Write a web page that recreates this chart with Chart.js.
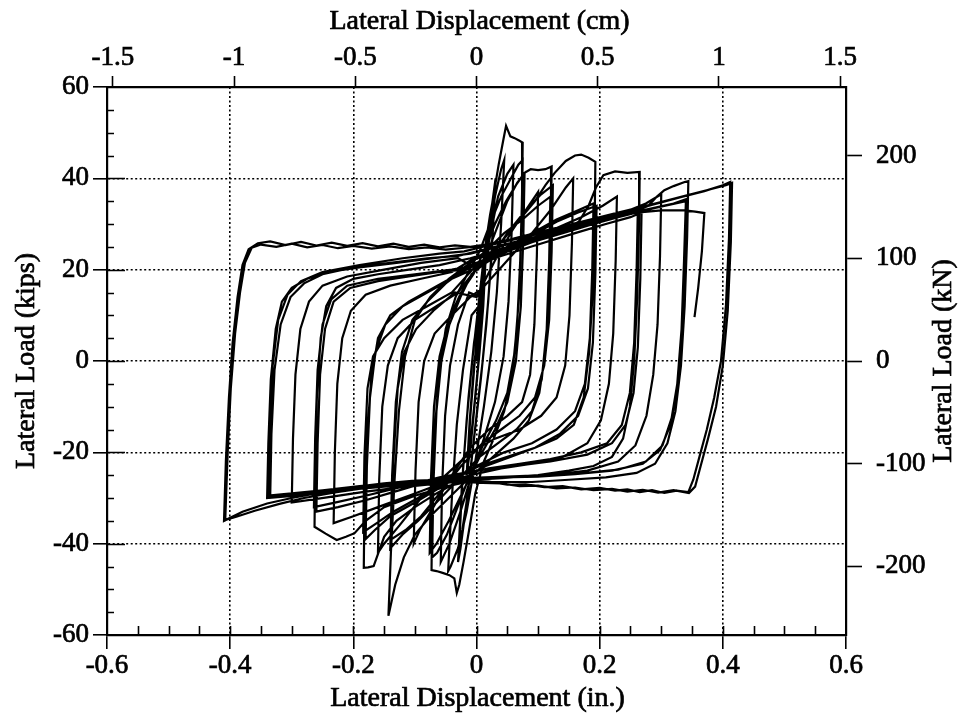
<!DOCTYPE html>
<html>
<head>
<meta charset="utf-8">
<title>Lateral load vs lateral displacement</title>
<script src="https://cdn.jsdelivr.net/npm/chart.js@4.4.0/dist/chart.umd.min.js"></script>
<style>
  html, body { margin: 0; padding: 0; background: #fff; }
  #wrap { width: 962px; height: 717px; }
</style>
</head>
<body>
<div id="wrap"><canvas id="hyst" width="962" height="717"></canvas></div>
<script>
/* =========================================================
   Data: hysteresis record, displacement (in.) / load (kips)
   one array per amplitude group
   ========================================================= */
const cycleA = [
  [0.000, 0], [0.005, 8], [0.010, 15], [0.014, 20], [0.010, 11], [0.004, 1],
  [-0.003, -9], [-0.009, -17], [-0.014, -22], [-0.010, -12], [-0.004, -2],
  [0.003, 9], [0.009, 17], [0.015, 23], [0.011, 12], [0.005, 2],
  [-0.002, -8], [-0.009, -18], [-0.016, -25], [-0.011, -13], [-0.004, -1]
];
const cycleB = [
  [0.004, 8], [0.012, 19], [0.020, 29], [0.027, 36], [0.031, 40], [0.026, 27],
  [0.019, 13], [0.010, 0], [0.000, -12], [-0.010, -24], [-0.019, -34],
  [-0.026, -41], [-0.030, -44], [-0.024, -28], [-0.016, -13], [-0.007, 0],
  [0.003, 12], [0.013, 24], [0.022, 32], [0.029, 37], [0.024, 22], [0.016, 8],
  [0.007, -4], [-0.004, -17], [-0.014, -29], [-0.023, -37], [-0.028, -40],
  [-0.022, -24], [-0.013, -8], [-0.004, 4]
];
const cycleB2 = [
  [0.005, 12], [0.018, 26], [0.030, 36], [0.040, 42], [0.045, 44], [0.040, 30],
  [0.033, 15], [0.024, 2], [0.012, -10], [-0.002, -22], [-0.016, -33],
  [-0.030, -41], [-0.042, -45], [-0.046, -46], [-0.040, -30], [-0.032, -14],
  [-0.022, -2], [-0.008, 10]
];
const cycleB3 = [
  [0.004, 12], [0.020, 26], [0.035, 36], [0.050, 41], [0.060, 43], [0.057, 28],
  [0.052, 13], [0.044, 1], [0.030, -9], [0.012, -17], [-0.008, -25],
  [-0.026, -33], [-0.044, -40], [-0.058, -44], [-0.056, -28], [-0.051, -12],
  [-0.043, -1], [-0.030, 8], [-0.012, 15]
];
const cycleC = [
  [0.006, 14], [0.016, 25], [0.026, 35], [0.036, 43], [0.043, 48], [0.048, 51.5],
  [0.051, 50.5], [0.055, 49.2], [0.062, 48.8], [0.069, 48.3], [0.075, 47.8],
  [0.074, 36], [0.071, 22], [0.066, 8], [0.058, -3], [0.045, -11], [0.028, -17],
  [0.012, -22], [-0.002, -29], [-0.012, -37], [-0.021, -44], [-0.028, -49],
  [-0.032, -50.8], [-0.036, -47.6], [-0.044, -46.9], [-0.055, -46.4],
  [-0.065, -46.0], [-0.073, -45.8], [-0.072, -32], [-0.068, -16], [-0.061, -3],
  [-0.050, 7], [-0.034, 14], [-0.015, 19], [0.005, 24], [0.022, 30], [0.040, 36],
  [0.056, 40], [0.068, 43], [0.075, 44], [0.073, 30], [0.069, 14], [0.062, 2],
  [0.050, -7], [0.032, -13], [0.012, -18], [-0.008, -24], [-0.028, -31],
  [-0.048, -38], [-0.064, -42], [-0.072, -43], [-0.070, -27], [-0.065, -11],
  [-0.057, 0], [-0.044, 8], [-0.026, 14], [-0.008, 19]
];
const cycleC2 = [
  [0.010, 21], [0.030, 28], [0.050, 35], [0.066, 39], [0.078, 41], [0.076, 27],
  [0.072, 12], [0.064, 0], [0.050, -9], [0.030, -15], [0.005, -21], [-0.020, -28],
  [-0.045, -35], [-0.065, -40], [-0.076, -42], [-0.074, -26], [-0.069, -10],
  [-0.060, 1], [-0.045, 9], [-0.025, 15], [-0.005, 19]
];
const cycleD = [
  [0.012, 24], [0.030, 30], [0.048, 35], [0.064, 38.5], [0.078, 41.2], [0.088, 42],
  [0.100, 41.8], [0.112, 42], [0.122, 42.6], [0.121, 30], [0.118, 15], [0.112, 2],
  [0.102, -7], [0.085, -13], [0.060, -17], [0.035, -20], [0.010, -23],
  [-0.015, -26], [-0.045, -30], [-0.075, -34], [-0.100, -38], [-0.118, -43],
  [-0.132, -49], [-0.143, -55.8], [-0.139, -42], [-0.133, -26], [-0.126, -11],
  [-0.116, 1], [-0.100, 9], [-0.075, 14], [-0.045, 18], [-0.015, 21], [0.015, 24],
  [0.045, 28], [0.075, 31], [0.100, 34], [0.120, 36], [0.118, 22], [0.114, 7],
  [0.106, -4], [0.090, -11], [0.065, -15], [0.035, -18], [0.005, -21],
  [-0.030, -26], [-0.065, -31], [-0.095, -35], [-0.120, -38], [-0.140, -41],
  [-0.137, -25], [-0.131, -9], [-0.121, 2], [-0.104, 9], [-0.080, 13],
  [-0.050, 17], [-0.020, 20]
];
const cycleD2 = [
  [0.020, 22], [0.050, 28], [0.080, 33], [0.105, 36.5], [0.124, 38.5], [0.122, 24],
  [0.118, 9], [0.110, -1], [0.095, -8], [0.070, -12], [0.040, -15], [0.010, -18],
  [-0.025, -23], [-0.060, -29], [-0.090, -34], [-0.115, -37], [-0.138, -39],
  [-0.135, -22], [-0.128, -6], [-0.117, 2], [-0.098, 7], [-0.070, 11],
  [-0.035, 15]
];
const cycleI = [
  [0.000, 14], [0.030, 22], [0.060, 29], [0.085, 34], [0.100, 37], [0.098, 23],
  [0.094, 8], [0.087, -3], [0.074, -9], [0.050, -12], [0.020, -15],
  [-0.010, -19], [-0.040, -25], [-0.070, -32], [-0.092, -37], [-0.102, -40],
  [-0.099, -24], [-0.094, -9], [-0.085, 0], [-0.068, 6], [-0.040, 10],
  [-0.010, 14]
];
const cycleJ = [
  [0.010, 16], [0.050, 22], [0.090, 28], [0.120, 33], [0.145, 38], [0.157, 40],
  [0.155, 26], [0.151, 10], [0.144, -1], [0.130, -8], [0.105, -12], [0.070, -15],
  [0.030, -17], [-0.010, -20], [-0.050, -25], [-0.090, -30], [-0.125, -36],
  [-0.150, -40], [-0.160, -42], [-0.158, -26], [-0.153, -10], [-0.144, -1],
  [-0.128, 5], [-0.100, 9], [-0.065, 12], [-0.030, 15]
];
const cycleE = [
  [0.010, 22], [0.040, 26], [0.070, 31], [0.095, 35], [0.112, 38.5], [0.127, 41.2],
  [0.145, 43.8], [0.160, 45], [0.170, 45.2], [0.182, 44.5], [0.193, 43.6],
  [0.192, 31], [0.189, 16], [0.183, 2], [0.174, -8], [0.158, -14], [0.130, -17],
  [0.095, -19], [0.055, -21], [0.015, -23], [-0.025, -26], [-0.065, -29],
  [-0.100, -32], [-0.130, -35], [-0.150, -38.5], [-0.167, -44.9], [-0.176, -45.2],
  [-0.183, -45.3], [-0.182, -32], [-0.178, -17], [-0.171, -4], [-0.160, 5],
  [-0.140, 10], [-0.110, 13], [-0.070, 16], [-0.030, 19], [0.010, 22], [0.050, 25],
  [0.090, 28], [0.130, 31], [0.165, 33], [0.190, 34.5], [0.188, 20], [0.184, 5],
  [0.176, -5], [0.160, -11], [0.130, -15], [0.090, -18], [0.045, -20], [0.000, -23],
  [-0.050, -27], [-0.100, -31], [-0.140, -34], [-0.165, -37], [-0.180, -39],
  [-0.178, -23], [-0.173, -8], [-0.164, 2], [-0.148, 8], [-0.120, 12],
  [-0.080, 15], [-0.040, 18]
];
const cycleE2 = [
  [0.010, 21], [0.050, 24.5], [0.090, 27.5], [0.130, 30.5], [0.165, 32.5],
  [0.195, 34], [0.193, 19], [0.189, 4], [0.181, -6], [0.165, -12], [0.135, -16],
  [0.095, -19], [0.050, -21], [0.005, -23], [-0.045, -26], [-0.095, -30],
  [-0.135, -33], [-0.162, -35.5], [-0.184, -37.5], [-0.182, -21], [-0.177, -6],
  [-0.168, 1], [-0.150, 5], [-0.120, 9], [-0.080, 12], [-0.040, 15]
];
const cycleF = [
  [0.000, 21], [0.050, 24], [0.100, 26.5], [0.140, 28.5], [0.166, 30.5], [0.182, 34],
  [0.194, 38], [0.206, 40.7], [0.225, 41.5], [0.245, 41.2], [0.265, 41.4],
  [0.264, 30], [0.261, 14], [0.256, 0], [0.249, -10], [0.238, -17], [0.220, -21],
  [0.190, -23], [0.150, -24], [0.100, -25], [0.050, -25.5], [0.000, -26],
  [-0.050, -27.5], [-0.100, -29.5], [-0.150, -32], [-0.180, -35], [-0.198, -37.7],
  [-0.212, -38.5], [-0.227, -39.2], [-0.245, -37.8], [-0.263, -36.3],
  [-0.262, -22], [-0.259, -7], [-0.253, 5], [-0.244, 12], [-0.228, 16],
  [-0.200, 18], [-0.160, 19], [-0.110, 20], [-0.060, 21], [-0.010, 22.5],
  [0.040, 24.5], [0.090, 26.5], [0.140, 28.5], [0.190, 30.5], [0.230, 32],
  [0.262, 33.5], [0.260, 20], [0.256, 4], [0.249, -7], [0.236, -14], [0.212, -18],
  [0.170, -20], [0.120, -21.5], [0.070, -22.5], [0.020, -23.5], [-0.030, -25],
  [-0.080, -26.5], [-0.130, -28.5], [-0.180, -30.5], [-0.225, -32], [-0.260, -33],
  [-0.258, -18], [-0.254, -3], [-0.246, 7], [-0.232, 13], [-0.205, 16],
  [-0.160, 17.5], [-0.110, 18.5], [-0.060, 19.5]
];
const cycleF3 = [
  [-0.020, 20], [0.040, 23], [0.100, 25.5], [0.160, 28], [0.210, 30], [0.250, 31.5],
  [0.268, 32.5], [0.266, 18], [0.262, 3], [0.255, -7], [0.242, -14], [0.220, -18],
  [0.180, -20.5], [0.120, -22], [0.060, -23], [0.000, -24], [-0.060, -25.5],
  [-0.120, -27.5], [-0.180, -29.5], [-0.230, -31], [-0.264, -32], [-0.262, -17],
  [-0.258, -2], [-0.250, 8], [-0.236, 13.5], [-0.210, 16.5], [-0.160, 18],
  [-0.100, 19], [-0.040, 20]
];
const cycleK = [
  [0.000, 21], [0.060, 25], [0.120, 28.5], [0.170, 31.5], [0.205, 34], [0.228, 36],
  [0.226, 22], [0.222, 6], [0.215, -5], [0.202, -13], [0.180, -18], [0.140, -21],
  [0.090, -22.5], [0.040, -23.5], [-0.010, -25], [-0.060, -27], [-0.110, -29.5],
  [-0.160, -32], [-0.200, -34], [-0.232, -35.5], [-0.230, -20], [-0.226, -5],
  [-0.218, 5], [-0.204, 11], [-0.180, 14.5], [-0.140, 16.5], [-0.090, 18],
  [-0.040, 19.5]
];
const cycleL = [
  [-0.010, 22], [0.050, 24.5], [0.110, 27], [0.170, 29.5], [0.230, 32],
  [0.275, 34.5], [0.300, 36.5], [0.298, 23], [0.294, 8], [0.287, -3],
  [0.276, -12], [0.258, -18.5], [0.230, -22], [0.180, -24], [0.120, -25],
  [0.060, -25.5], [0.000, -26], [-0.060, -26.8], [-0.120, -27.6], [-0.180, -28.6],
  [-0.240, -29.8], [-0.300, -31], [-0.298, -17], [-0.294, -3], [-0.286, 7],
  [-0.272, 13], [-0.250, 16.5], [-0.210, 18.5], [-0.150, 20], [-0.090, 21.5],
  [-0.030, 22.5]
];
const cycleG = [
  [-0.010, 21], [0.040, 23.5], [0.090, 26], [0.140, 28], [0.190, 30], [0.230, 31.5],
  [0.262, 33], [0.279, 34], [0.293, 36], [0.305, 37.4], [0.320, 38.3],
  [0.338, 39.2], [0.344, 39.4], [0.342, 27], [0.338, 12], [0.332, -1],
  [0.323, -11], [0.310, -18], [0.290, -22.5], [0.260, -24.5], [0.210, -25.5],
  [0.150, -26], [0.090, -26.5], [0.030, -26.5], [-0.030, -26.5], [-0.090, -27],
  [-0.150, -27.5], [-0.210, -28.2], [-0.270, -29.2], [-0.340, -30],
  [-0.338, -18], [-0.334, -4], [-0.326, 7], [-0.316, 13], [-0.300, 16],
  [-0.275, 18], [-0.240, 19.5], [-0.190, 20.5], [-0.130, 21.5], [-0.070, 22.5],
  [-0.010, 23.5], [0.050, 25.5], [0.110, 27.5], [0.170, 29.5], [0.230, 31.5],
  [0.290, 33.5], [0.340, 35], [0.337, 22], [0.333, 7], [0.326, -5], [0.315, -14],
  [0.298, -19.5], [0.270, -22.5], [0.220, -24], [0.160, -24.8], [0.100, -25.3],
  [0.040, -25.5], [-0.020, -25.8], [-0.080, -26.3], [-0.140, -26.8],
  [-0.200, -27.6], [-0.260, -28.6], [-0.300, -29.3], [-0.335, -29.8],
  [-0.333, -16], [-0.328, -2], [-0.318, 8], [-0.302, 14], [-0.280, 17],
  [-0.250, 19], [-0.200, 20.5], [-0.140, 21.5], [-0.080, 22.5]
];
const cycleG3 = [
  [-0.030, 23], [0.030, 25], [0.090, 27], [0.150, 29], [0.210, 31], [0.270, 33],
  [0.320, 34.5], [0.342, 35.5], [0.340, 22], [0.336, 8], [0.329, -3], [0.318, -12],
  [0.302, -18.5], [0.275, -22], [0.230, -23.8], [0.170, -24.6], [0.110, -25],
  [0.050, -25.3], [-0.010, -25.6], [-0.070, -26.1], [-0.130, -26.7],
  [-0.190, -27.4], [-0.250, -28.3], [-0.300, -29], [-0.338, -29.5],
  [-0.336, -15], [-0.331, -1], [-0.322, 9], [-0.307, 14.5], [-0.285, 17.5],
  [-0.250, 19.5], [-0.190, 21], [-0.120, 22.5], [-0.060, 23.5]
];
const cycleH = [
  [-0.020, 24], [0.040, 26], [0.100, 28], [0.160, 30], [0.220, 32], [0.280, 34],
  [0.330, 35.8], [0.370, 37.2], [0.400, 38.5], [0.412, 39.2], [0.410, 27],
  [0.405, 12], [0.397, 0], [0.386, -8], [0.374, -15], [0.362, -21], [0.352, -26],
  [0.344, -28.7], [0.325, -28.4], [0.305, -28.9], [0.285, -28.3], [0.265, -28.7],
  [0.245, -28.1], [0.225, -28.4], [0.200, -27.8], [0.170, -28.1], [0.140, -27.4],
  [0.110, -27.6], [0.080, -27.0], [0.050, -27.1], [0.020, -26.4], [-0.010, -26.3],
  [-0.050, -26.0], [-0.100, -26.2], [-0.150, -26.8], [-0.200, -27.6],
  [-0.250, -28.7], [-0.300, -30], [-0.340, -31.2], [-0.380, -33], [-0.410, -35],
  [-0.407, -22], [-0.402, -8], [-0.396, 4], [-0.388, 14], [-0.380, 21],
  [-0.370, 24.5], [-0.355, 25.8], [-0.335, 26.2], [-0.310, 25.4], [-0.285, 26.1],
  [-0.260, 25.3], [-0.235, 25.9], [-0.210, 25.2], [-0.185, 25.8], [-0.160, 25.1],
  [-0.135, 25.7], [-0.110, 25.0], [-0.085, 25.5], [-0.060, 24.9], [-0.035, 25.3],
  [-0.010, 25.0], [0.020, 25.6], [0.060, 26.8], [0.110, 28.5], [0.170, 30.5],
  [0.230, 32.5], [0.290, 34.5], [0.340, 36.2], [0.380, 37.6], [0.405, 38.5],
  [0.415, 39.0], [0.413, 26], [0.408, 11], [0.400, -1], [0.389, -10],
  [0.376, -17], [0.364, -23], [0.355, -27.5], [0.345, -28.9], [0.320, -28.3],
  [0.295, -28.8], [0.270, -28.2], [0.245, -28.6], [0.220, -28.0], [0.190, -28.3],
  [0.160, -27.7], [0.130, -27.9], [0.100, -27.3], [0.070, -27.4], [0.040, -26.8],
  [0.010, -26.7], [-0.030, -26.4], [-0.080, -26.5], [-0.130, -27],
  [-0.180, -27.8], [-0.230, -28.8], [-0.280, -30], [-0.320, -31.3],
  [-0.360, -32.8], [-0.390, -34.1], [-0.408, -34.8], [-0.404, -20],
  [-0.399, -6], [-0.392, 6], [-0.384, 15], [-0.376, 21.5], [-0.365, 24.8],
  [-0.350, 25.5], [-0.325, 25], [-0.300, 25.7], [-0.275, 24.9], [-0.250, 25.4],
  [-0.225, 24.7], [-0.200, 25.2], [-0.170, 24.6], [-0.140, 25.1], [-0.110, 24.5],
  [-0.080, 24.9], [-0.050, 24.4], [-0.020, 24.8], [0.020, 25.3], [0.080, 27.2],
  [0.140, 29], [0.200, 30.8], [0.260, 32.5], [0.300, 33], [0.338, 33],
  [0.355, 32.7], [0.370, 32.4], [0.366, 24], [0.360, 16], [0.354, 9.6]
];

// Axis ticks and labels
const xTicks = [-0.6, -0.4, -0.2, 0, 0.2, 0.4, 0.6];
const xTickLabels = ['-0.6', '-0.4', '-0.2', '0', '0.2', '0.4', '0.6'];
const cmTicks = [-1.5, -1, -0.5, 0, 0.5, 1, 1.5];
const cmTickLabels = ['-1.5', '-1', '-0.5', '0', '0.5', '1', '1.5'];
const kipTicks = [-60, -40, -20, 0, 20, 40, 60];
const kipTickLabels = ['-60', '-40', '-20', '0', '20', '40', '60'];
const knTicks = [-200, -100, 0, 100, 200];
const knTickLabels = ['-200', '-100', '0', '100', '200'];

/* =========================================================
   Chart setup
   ========================================================= */
const FONT = "'Liberation Serif', 'Times New Roman', serif";
const IN_TO_CM = 2.54;
const KIP_TO_KN = 4.448;
const X_MIN = -0.6, X_MAX = 0.6, Y_MIN = -60, Y_MAX = 60;

const record = [cycleA, cycleB, cycleB2, cycleB3, cycleC, cycleC2, cycleD, cycleD2,
  cycleI, cycleJ, cycleE, cycleE2, cycleF, cycleF3, cycleK, cycleL,
  cycleG, cycleG3, cycleH]
  .flat()
  .map(([x, y]) => ({ x, y }));

const tickFont = { family: FONT, size: 27 };
const tickStyle = { font: tickFont, color: '#000', textStrokeColor: '#000', textStrokeWidth: 0.7, autoSkip: false };
const edgeless = (lo, hi) => ctx =>
  (ctx.tick && (ctx.tick.value === lo || ctx.tick.value === hi)) ? 'rgba(0,0,0,0)' : '#000';

// inward tick marks + the four axis titles (scanned look: slight stroke)
const axisDecor = {
  id: 'axisDecor',
  afterDatasetsDraw(chart) {
    const { ctx, chartArea: a, scales } = chart;
    const x = scales.x, y = scales.y;
    ctx.save();
    ctx.strokeStyle = '#000';
    ctx.lineWidth = 1.6;
    ctx.beginPath();
    for (let k = -12; k <= 12; k++) {
      const v = k * 5;
      if (Math.abs(v) === 60) continue;
      const py = Math.round(y.getPixelForValue(v)) + 0.5;
      const len = v % 20 === 0 ? 18 : 7;
      ctx.moveTo(a.left, py);
      ctx.lineTo(a.left + len, py);
    }
    for (let k = -11; k <= 11; k++) {
      const px = Math.round(x.getPixelForValue(k * 0.05)) + 0.5;
      ctx.moveTo(px, a.bottom);
      ctx.lineTo(px, a.bottom - 9);
    }
    ctx.stroke();

    const midX = (a.left + a.right) / 2, midY = (a.top + a.bottom) / 2;
    const titles = [
      ['Lateral Displacement (cm)', midX + 3, 22, 0],
      ['Lateral Displacement (in.)', midX + 1, 699, 0],
      ['Lateral Load (kips)', 27, midY, -Math.PI / 2],
      ['Lateral Load (kN)', 944, midY, -Math.PI / 2]
    ];
    ctx.fillStyle = '#000';
    ctx.lineWidth = 0.7;
    ctx.font = `28px ${FONT}`;
    ctx.textAlign = 'center';
    ctx.textBaseline = 'middle';
    titles.forEach(([text, tx, ty, rot]) => {
      ctx.save();
      ctx.translate(tx, ty);
      ctx.rotate(rot);
      ctx.fillText(text, 0, 0);
      ctx.strokeText(text, 0, 0);
      ctx.restore();
    });
    ctx.restore();
  }
};

function initHysteresisChart() {
  const el = document.getElementById('hyst');
  if (!el) return;

  new Chart(el.getContext('2d'), {
    type: 'scatter',
    data: {
      datasets: [{
        data: record,
        showLine: true,
        borderColor: '#000',
        borderWidth: 2.2,
        pointRadius: 0,
        tension: 0,
        xAxisID: 'x',
        yAxisID: 'y'
      }]
    },
    options: {
      responsive: false,
      animation: false,
      layout: { padding: 0 },
      plugins: { legend: { display: false }, tooltip: { enabled: false } },
      scales: {
        x: {
          type: 'linear', position: 'bottom', min: X_MIN, max: X_MAX,
          afterBuildTicks: s => { s.ticks = xTicks.map(v => ({ value: v })); },
          afterFit: s => { s.height = 82; },
          ticks: { ...tickStyle, callback: (v, i) => xTickLabels[i], padding: 1, maxRotation: 0 },
          grid: { color: edgeless(X_MIN, X_MAX), lineWidth: 1.6, tickColor: '#000', tickLength: 14, tickWidth: 1.6, tickBorderDash: [] },
          border: { display: true, color: '#000', width: 2.2, dash: [2, 2.5] }
        },
        x2: {
          type: 'linear', position: 'top', min: X_MIN * IN_TO_CM, max: X_MAX * IN_TO_CM,
          afterBuildTicks: s => { s.ticks = cmTicks.map(v => ({ value: v })); },
          afterFit: s => { s.height = 87; },
          ticks: { ...tickStyle, callback: (v, i) => cmTickLabels[i], padding: 2, maxRotation: 0 },
          grid: { drawOnChartArea: false, color: '#000', tickColor: '#000', tickLength: 11, tickWidth: 1.6 },
          border: { display: true, color: '#000', width: 2.2 }
        },
        y: {
          type: 'linear', position: 'left', min: Y_MIN, max: Y_MAX,
          afterBuildTicks: s => { s.ticks = kipTicks.map(v => ({ value: v })); },
          afterFit: s => { s.width = 107; },
          ticks: { ...tickStyle, callback: (v, i) => kipTickLabels[i], padding: 4 },
          grid: { color: edgeless(Y_MIN, Y_MAX), lineWidth: 1.6, tickColor: '#000', tickLength: 14, tickWidth: 1.6, tickBorderDash: [] },
          border: { display: true, color: '#000', width: 2.2, dash: [2, 2.5] }
        },
        y2: {
          type: 'linear', position: 'right', min: Y_MIN * KIP_TO_KN, max: Y_MAX * KIP_TO_KN,
          afterBuildTicks: s => { s.ticks = knTicks.map(v => ({ value: v })); },
          afterFit: s => { s.width = 116; },
          ticks: { ...tickStyle, callback: (v, i) => knTickLabels[i], padding: 14 },
          grid: { drawOnChartArea: false, color: '#000', tickColor: '#000', tickLength: 16, tickWidth: 1.6 },
          border: { display: true, color: '#000', width: 2.2 }
        }
      }
    },
    plugins: [axisDecor]
  });
}

document.addEventListener('DOMContentLoaded', initHysteresisChart);
</script>
</body>
</html>
